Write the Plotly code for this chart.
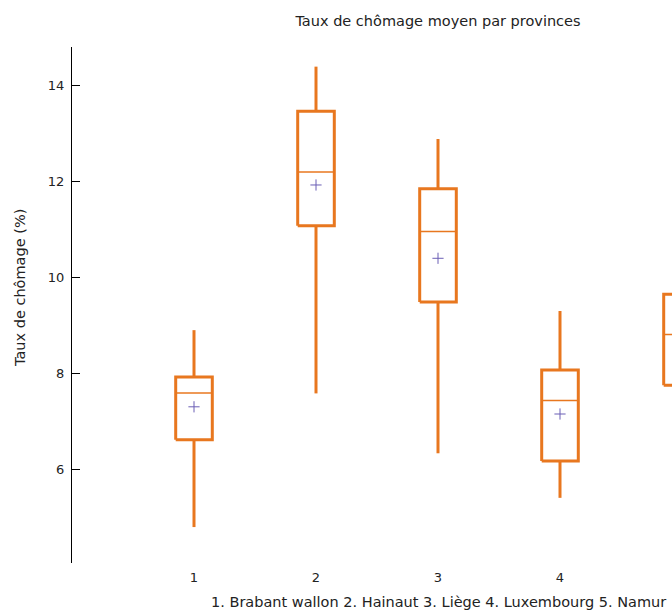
import plotly.graph_objects as go

provinces = [1, 2, 3, 4, 5]
q1 = [6.61, 11.08, 9.49, 6.17, 7.75]
median = [7.59, 12.20, 10.96, 7.43, 8.81]
q3 = [7.92, 13.47, 11.85, 8.07, 9.65]
lower = [4.79, 7.58, 6.33, 5.40, 6.30]
upper = [8.90, 14.40, 12.89, 9.30, 10.80]
mean = [7.30, 11.93, 10.40, 7.15, 8.60]
tick_vals = [1, 2, 3, 4, 5]
tick_text = ["1", "2", "3", "4", "5"]

ORANGE = "#E8771F"
MEANC = "#6B5FB5"
FONT = "DejaVu Sans"
TXT = "#222222"
HALF = 0.15

wx, wy, bx, by, mx, my = [], [], [], [], [], []
for p, a, b, c, lo, hi, m in zip(provinces, q1, q3, q3, lower, upper, median):
    wx += [p, p, None, p, p, None]
    wy += [b, hi, None, lo, a, None]
    bx += [p - HALF, p + HALF, p + HALF, p - HALF, p - HALF, None]
    by += [a, a, b, b, a, None]
    mx += [p - HALF, p + HALF, None]
    my += [m, m, None]

fig = go.Figure()
fig.add_trace(go.Scatter(x=wx, y=wy, mode="lines",
                         line=dict(color=ORANGE, width=3),
                         showlegend=False, hoverinfo="skip"))
fig.add_trace(go.Scatter(x=bx, y=by, mode="lines", fill="toself",
                         fillcolor="white",
                         line=dict(color=ORANGE, width=3),
                         showlegend=False, hoverinfo="skip"))
fig.add_trace(go.Scatter(x=mx, y=my, mode="lines",
                         line=dict(color=ORANGE, width=1.5),
                         showlegend=False, hoverinfo="skip"))
fig.add_trace(go.Scatter(x=provinces, y=mean, mode="markers",
                         marker=dict(symbol="cross-thin", size=8,
                                     line=dict(color=MEANC, width=1)),
                         showlegend=False))

fig.update_layout(
    width=672, height=611,
    margin=dict(l=72, r=0, t=47, b=48),
    paper_bgcolor="white", plot_bgcolor="white",
    font=dict(family=FONT, size=13, color=TXT),
    title=dict(text="Taux de chômage moyen par provinces",
               x=0.61, xref="paper", xanchor="center",
               y=1 - 21 / 611, yref="container", yanchor="middle",
               font=dict(family=FONT, size=14.5, color=TXT)),
    xaxis=dict(range=[0, 4.918], tickvals=tick_vals, ticktext=tick_text,
               showline=False, showgrid=False, zeroline=False, ticks="",
               ticklabelstandoff=5),
    yaxis=dict(range=[4.04, 14.81], dtick=2, tick0=0,
               showline=True, linecolor="black", linewidth=1,
               ticks="inside", ticklen=8, tickcolor="black",
               ticklabelstandoff=4,
               showgrid=False, zeroline=False),
    annotations=[
        dict(text="1. Brabant wallon 2. Hainaut 3. Liège 4. Luxembourg 5. Namur",
             xref="paper", yref="paper", x=0.61, y=0, yshift=-39,
             xanchor="center", yanchor="middle", showarrow=False,
             font=dict(family=FONT, size=14.5, color=TXT)),
        dict(text="Taux de chômage (%)", xref="paper", yref="paper",
             x=0, xshift=-52, y=(563 - 288) / 516, textangle=-90,
             xanchor="center", yanchor="middle", showarrow=False,
             font=dict(family=FONT, size=14.5, color=TXT)),
    ],
)

fig.write_html("out.html", config={"displayModeBar": False},
               post_script="document.body.style.margin='0';")
